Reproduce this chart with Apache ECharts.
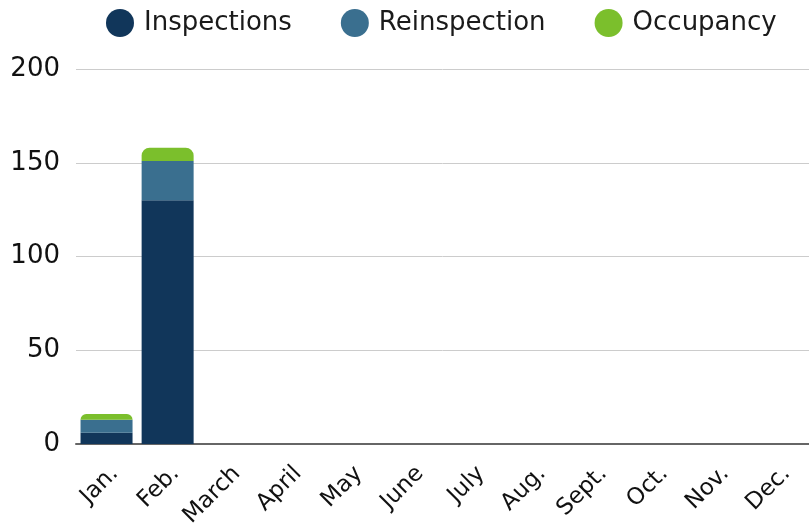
<!DOCTYPE html>
<html>
<head>
<meta charset="utf-8">
<script src="https://cdn.jsdelivr.net/npm/echarts@6/dist/echarts.min.js"></script>
<style>
  html, body { margin: 0; padding: 0; background: #fff; }
  #chart { width: 809px; height: 530px; }
</style>
</head>
<body>
<div id="chart"></div>
<script>
var months = ['Jan.', 'Feb.', 'March', 'April', 'May', 'June', 'July', 'Aug.', 'Sept.', 'Oct.', 'Nov.', 'Dec.'];
var inspections = [6, 130, 0, 0, 0, 0, 0, 0, 0, 0, 0, 0];
var reinspection = [7, 21, 0, 0, 0, 0, 0, 0, 0, 0, 0, 0];
var occupancy = [3, 7, 0, 0, 0, 0, 0, 0, 0, 0, 0, 0];

(function() {
    var font = 'DejaVu Sans';
    function bar(name, data, color, top) {
        return {
            name: name,
            type: 'bar',
            stack: 'total',
            barWidth: 52,
            data: data.map(function(v) { return v === 0 ? null : v; }),
            itemStyle: {
                color: color,
                borderRadius: top ? [8, 8, 0, 0] : 0
            }
        };
    }
    var option = {
        animation: false,
        legend: {
            top: 4,
            left: 101,
            icon: 'circle',
            itemWidth: 28,
            itemHeight: 28,
            itemGap: 49,
            textStyle: { fontFamily: font, fontSize: 26, color: '#1a1a1a', padding: [0, 0, 0, 5] }
        },
        // plot runs past the right edge of the picture, as in the original
        grid: { left: 76, right: -17, top: 69, bottom: 86 },
        xAxis: {
            type: 'category',
            data: months,
            axisTick: { show: false },
            axisLine: { lineStyle: { color: '#666', width: 2 } },
            axisLabel: {
                rotate: 45,
                interval: 0,
                margin: 18,
                align: 'right',
                verticalAlign: 'top',
                fontFamily: font,
                fontSize: 23,
                color: '#111'
            }
        },
        yAxis: {
            type: 'value',
            min: 0,
            max: 200,
            interval: 50,
            axisLine: { show: false },
            axisTick: { show: false },
            splitLine: { lineStyle: { color: '#ccc', width: 1 } },
            axisLabel: { fontFamily: font, fontSize: 26, color: '#111', margin: 16 }
        },
        series: [
            bar('Inspections', inspections, '#11365a', false),
            bar('Reinspection', reinspection, '#3a6f8f', false),
            bar('Occupancy', occupancy, '#7bbf2c', true)
        ]
    };
    var myChart = echarts.init(document.getElementById('chart'));
    myChart.setOption(option);
})();
</script>
</body>
</html>
